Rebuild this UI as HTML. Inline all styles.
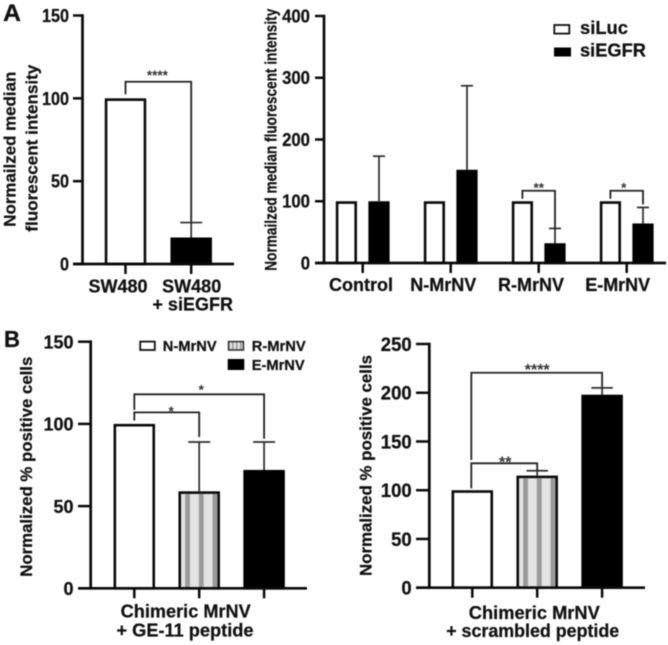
<!DOCTYPE html>
<html lang="en">
<head>
<meta charset="utf-8">
<title>Normalized fluorescence and positive cell charts</title>
<style>
html,body{margin:0;padding:0;background:#fff;width:668px;height:645px;overflow:hidden}
svg{display:block;filter:blur(0.45px)}
text{font-family:"Liberation Sans",Arial,sans-serif;font-weight:bold;fill:#111;stroke:#111;stroke-width:0.25px}
</style>
</head>
<body>
<svg id="figure" xmlns="http://www.w3.org/2000/svg" width="668" height="645" viewBox="0 0 668 645">
  <text x="3" y="21" font-size="24" textLength="18" lengthAdjust="spacingAndGlyphs">A</text>
  <text x="4" y="347" font-size="23" textLength="16" lengthAdjust="spacingAndGlyphs">B</text>

  <g id="chartA1">
    <text transform="translate(15.7,226.7) rotate(-90)" font-size="17" textLength="155" lengthAdjust="spacingAndGlyphs">Normailzed median</text>
    <text transform="translate(37.7,231.7) rotate(-90)" font-size="17" textLength="167" lengthAdjust="spacingAndGlyphs">fluorescent intensity</text>
  </g>

  <g id="chartA2">
    <text transform="translate(276.7,270.7) rotate(-90)" font-size="16.5" textLength="262" lengthAdjust="spacingAndGlyphs">Normailzed median fluorescent intensity</text>
    <g>
      <rect x="554.3" y="25" width="15" height="8.6" fill="#fff" stroke="#111" stroke-width="1.8"/>
      <text x="580" y="34" font-size="18" textLength="48" lengthAdjust="spacingAndGlyphs">siLuc</text>
      <rect x="554" y="47.5" width="17" height="9" fill="#000"/>
      <text x="580" y="56.7" font-size="18" textLength="66" lengthAdjust="spacingAndGlyphs">siEGFR</text>
    </g>
  </g>

  <g id="chartB1">
    <text transform="translate(32,576.7) rotate(-90)" font-size="17" textLength="220" lengthAdjust="spacingAndGlyphs">Normalized % positive cells</text>
    <text x="185.7" y="617.7" font-size="18" text-anchor="middle" textLength="130" lengthAdjust="spacingAndGlyphs">Chimeric MrNV</text>
    <text x="185" y="636.5" font-size="18" text-anchor="middle" textLength="137" lengthAdjust="spacingAndGlyphs">+ GE-11 peptide</text>
    <g>
      <rect x="140.2" y="341.6" width="14.6" height="8.4" fill="#fff" stroke="#111" stroke-width="1.8"/>
      <text x="162.7" y="351" font-size="15" textLength="54" lengthAdjust="spacingAndGlyphs">N-MrNV</text>
      <rect x="228.6" y="341.6" width="14.8" height="8.4" fill="url(#legendStripes)" stroke="#333" stroke-width="1.6"/>
      <text x="251.7" y="351" font-size="15" textLength="54" lengthAdjust="spacingAndGlyphs">R-MrNV</text>
      <rect x="227.7" y="359" width="16.6" height="11" fill="#000"/>
      <text x="251.7" y="370" font-size="15" textLength="53" lengthAdjust="spacingAndGlyphs">E-MrNV</text>
    </g>
  </g>

  <g id="chartB2">
    <text transform="translate(371.7,576) rotate(-90)" font-size="17" textLength="221" lengthAdjust="spacingAndGlyphs">Normalized % positive cells</text>
    <text x="534.3" y="619" font-size="18" text-anchor="middle" textLength="131" lengthAdjust="spacingAndGlyphs">Chimeric MrNV</text>
    <text x="532.7" y="637" font-size="18" text-anchor="middle" textLength="173" lengthAdjust="spacingAndGlyphs">+ scrambled peptide</text>
  </g>

  <defs>
    <pattern id="legendStripes" patternUnits="userSpaceOnUse" width="4" height="4">
      <rect width="4" height="4" fill="#e2e2e2"/>
      <rect width="1.6" height="4" fill="#999"/>
    </pattern>
  </defs>
</svg>

<script>
// Panel A, left chart
var a1Categories = ["SW480", "SW480|+ siEGFR"];
var a1Values = [100, 16];
var a1Errors = [null, 25];
var a1Ticks = [0, 50, 100, 150];
var a1Brackets = [{from: 0, to: 1, level: 110, leftEnd: 102.5, rightEnd: 25, label: "****"}];

// Panel A, right chart
var a2Categories = ["Control", "N-MrNV", "R-MrNV", "E-MrNV"];
var a2SiLuc = [100, 100, 100, 100];
var a2SiEGFR = [100, 151, 32, 64];
var a2SiEGFRErrors = [173, 287, 56, 90];
var a2Ticks = [0, 100, 200, 300, 400];
var a2Brackets = [
  {category: 2, level: 117, leftEnd: 104, rightEnd: 56, label: "**"},
  {category: 3, level: 117, leftEnd: 104, rightEnd: 95, label: "*"}
];

// Panel B, left chart
var b1Categories = ["N-MrNV", "R-MrNV", "E-MrNV"];
var b1Values = [100, 59, 72];
var b1Errors = [null, 89, 89];
var b1Ticks = [0, 50, 100, 150];
var b1Brackets = [
  {from: 0, to: 1, level: 107, leftEnd: 102, rightEnd: 92, label: "*"},
  {from: 0, to: 2, level: 118, leftEnd: 108.5, rightEnd: 91, label: "*"}
];

// Panel B, right chart
var b2Categories = ["N-MrNV", "R-MrNV", "E-MrNV"];
var b2Values = [100, 115, 198];
var b2Errors = [null, 120, 205];
var b2Ticks = [0, 50, 100, 150, 200, 250];
var b2Brackets = [
  {from: 0, to: 2, level: 220.5, leftEnd: 131, rightEnd: 206, label: "****"},
  {from: 0, to: 1, level: 127.6, leftEnd: 102, rightEnd: 120, label: "**"}
];

var SVGNS = "http://www.w3.org/2000/svg";

function make(parent, tag, attrs, text) {
  var el = document.createElementNS(SVGNS, tag);
  for (var k in attrs) { el.setAttribute(k, attrs[k]); }
  if (text !== undefined) { el.textContent = text; }
  parent.appendChild(el);
  return el;
}

function linearY(layout) {
  return function (v) {
    return layout.y0 - (v / layout.max) * (layout.y0 - layout.yTop);
  };
}

function drawAxes(root, layout, ticks, tickXs, yScale) {
  var el = make(root, "line", {x1: layout.axisX, x2: layout.axisX, y1: yScale(layout.max) - 1.3, y2: layout.y0 + 1.3, stroke: "#0a0a0a", "stroke-width": 2.7});
  
  
  el = make(root, "line", {x1: layout.xStart, x2: layout.xEnd, y1: layout.y0, y2: layout.y0, stroke: "#0a0a0a", "stroke-width": 2.7});
  
  
  ticks.forEach(function (t) {
    var mark = make(root, "line", {x1: layout.xStart, x2: layout.axisX, y1: yScale(t), y2: yScale(t), stroke: "#0a0a0a", "stroke-width": 2.5});
    
    
    var label = make(root, "text", {x: layout.tickLabelX, y: yScale(t) + layout.tickFont * 0.36, "font-size": layout.tickFont, "text-anchor": "end", textLength: String(t).length * layout.digitWidth, lengthAdjust: "spacingAndGlyphs"}, String(t));
    
    
  });
  tickXs.forEach(function (x) {
    var mark = make(root, "line", {x1: x, x2: x, y1: layout.y0, y2: layout.y0 + 10, stroke: "#0a0a0a", "stroke-width": 2.5});
    
    
  });
}

function drawError(root, cx, top, bottom, capWidth) {
  var stem = make(root, "line", {x1: cx, x2: cx, y1: top, y2: bottom, stroke: "#2b2b2b", "stroke-width": 1.7});
  
  
  var cap = make(root, "line", {x1: cx - capWidth / 2, x2: cx + capWidth / 2, y1: top, y2: top, stroke: "#2b2b2b", "stroke-width": 1.7});
  
  
}

function drawBar(root, cx, width, value, kind, yScale, y0, name) {
  var sw = 2.6;
  var top = yScale(value);
  var fill = kind === "black" ? "#000" : (kind === "stripe" ? "#e3e3e3" : "#fff");
  var bar = make(root, "rect", {x: cx - width / 2 + sw / 2, y: top + sw / 2, width: width - sw, height: Math.max(y0 - top - sw / 2, 0), fill: fill, stroke: kind === "black" ? "#000" : "#0a0a0a", "stroke-width": sw});
  
  
  if (kind === "stripe") {
    for (var i = 0; i < 3; i++) {
      var stripe = make(root, "rect", {x: cx - width / 2 + 6.7 + i * 13.7, y: top + sw, width: 4.8, height: Math.max(y0 - top - sw, 0), fill: "#9a9a9a"});
      
      
    }
  }
}

function drawBracket(root, x1, x2, yLevel, yLeft, yRight, label, starX, starY, starFont) {
  var d = "M" + x1 + " " + yLeft + "V" + yLevel + "H" + x2 + "V" + yRight;
  var path = make(root, "path", {d: d, fill: "none", stroke: "#222", "stroke-width": 1.8});
  
  
  var stars = make(root, "text", {x: starX, y: starY + starFont * 0.55, "font-size": starFont, "text-anchor": "middle", style: "stroke:none;fill:#333"}, label);
  
  
}

function drawCategoryLabels(root, categories, positions, offsets, baselines, font) {
  categories.forEach(function (c, i) {
    c.split("|").forEach(function (line, j) {
      var extra = line.charAt(0) === "+" ? 1 : 0;
      var label = make(root, "text", {x: positions[i] + offsets[i] + extra, y: baselines[j], "font-size": font, "text-anchor": "middle"}, line);
      
      
    });
  });
}

function drawSimpleChart(id, layout, categories, values, errors, ticks, brackets) {
  var root = document.getElementById(id);
  var yScale = linearY(layout);
  var xs = categories.map(function (c, i) { return layout.x0 + i * layout.step; });
  values.forEach(function (v, i) {
    drawBar(root, xs[i], layout.barWidth, v, layout.kinds[i], yScale, layout.y0, 'bar-' + categories[i].split("|").join(" ").toLowerCase().replace(/[^a-z0-9]+/g, "-"));
    if (errors[i] !== null) {
      drawError(root, xs[i], yScale(errors[i]), yScale(v), layout.capWidth);
    }
  });
  drawAxes(root, layout, ticks, xs, yScale);
  brackets.forEach(function (b, i) {
    var mid = (xs[b.from] + xs[b.to]) / 2;
    drawBracket(root, xs[b.from] + layout.legShift, xs[b.to], yScale(b.level), yScale(b.leftEnd), yScale(b.rightEnd), b.label,
      mid + layout.starDx[i], yScale(b.level) - layout.starDy[i], layout.starFont);
  });
  return xs;
}

var a1Xs = drawSimpleChart("chartA1",
  {y0: 264, yTop: 15.5, max: 150, axisX: 82.5, xStart: 73, xEnd: 234, tickLabelX: 69, tickFont: 18, digitWidth: 9,
   x0: 125.5, step: 65.7, barWidth: 41.5, capWidth: 22, kinds: ["white", "black"], legShift: 0,
   starDx: [-1], starDy: [9], starFont: 13.5},
  a1Categories, a1Values, a1Errors, a1Ticks, a1Brackets);
drawCategoryLabels(document.getElementById("chartA1"), a1Categories, a1Xs, [-7.5, 0.5], [292.7, 310.5], 18);

(function drawGrouped() {
  var root = document.getElementById("chartA2");
  var layout = {y0: 263, yTop: 16, max: 400, axisX: 324, xStart: 315, xEnd: 666, tickLabelX: 310, tickFont: 18, digitWidth: 9.3};
  var yScale = linearY(layout);
  var xs = a2Categories.map(function (c, i) { return 362.7 + i * 88; });
  var barW = 21.2, off = 16.3;
  a2Categories.forEach(function (c, i) {
    drawBar(root, xs[i] - off, barW, a2SiLuc[i], "white", yScale, layout.y0, 'bar-siluc-' + c.toLowerCase());
    drawBar(root, xs[i] + off, barW, a2SiEGFR[i], "black", yScale, layout.y0, 'bar-siegfr-' + c.toLowerCase());
    drawError(root, xs[i] + off, yScale(a2SiEGFRErrors[i]), yScale(a2SiEGFR[i]), 12);
  });
  drawAxes(root, layout, a2Ticks, xs, yScale);
  var starOffsets = [0, -3];
  a2Brackets.forEach(function (b, i) {
    var cx = xs[b.category];
    drawBracket(root, cx - off, cx + off, yScale(b.level), yScale(b.leftEnd), yScale(b.rightEnd), b.label,
      cx + starOffsets[i], yScale(b.level) - 5.7, 13.5);
  });
  drawCategoryLabels(root, a2Categories, xs, [-1.7, -7.4, -7.7, -9], [291], 18);
})();

drawSimpleChart("chartB1",
  {y0: 588.3, yTop: 341.7, max: 150, axisX: 90.7, xStart: 78, xEnd: 307, tickLabelX: 73.5, tickFont: 18.5, digitWidth: 10,
   x0: 134.3, step: 64.9, barWidth: 41.5, capWidth: 22, kinds: ["white", "stripe", "black"], legShift: 0,
   starDx: [4.4, 2], starDy: [4, 7], starFont: 13.5},
  b1Categories, b1Values, b1Errors, b1Ticks, b1Brackets);

drawSimpleChart("chartB2",
  {y0: 587.7, yTop: 344, max: 250, axisX: 429.3, xStart: 416, xEnd: 645, tickLabelX: 411.7, tickFont: 19, digitWidth: 10.3,
   x0: 472.3, step: 64.9, barWidth: 41.5, capWidth: 21.5, kinds: ["white", "stripe", "black"], legShift: -1,
   starDx: [0, 0.5], starDy: [6.7, 4.7], starFont: 16},
  b2Categories, b2Values, b2Errors, b2Ticks, b2Brackets);
</script>
</body>
</html>
